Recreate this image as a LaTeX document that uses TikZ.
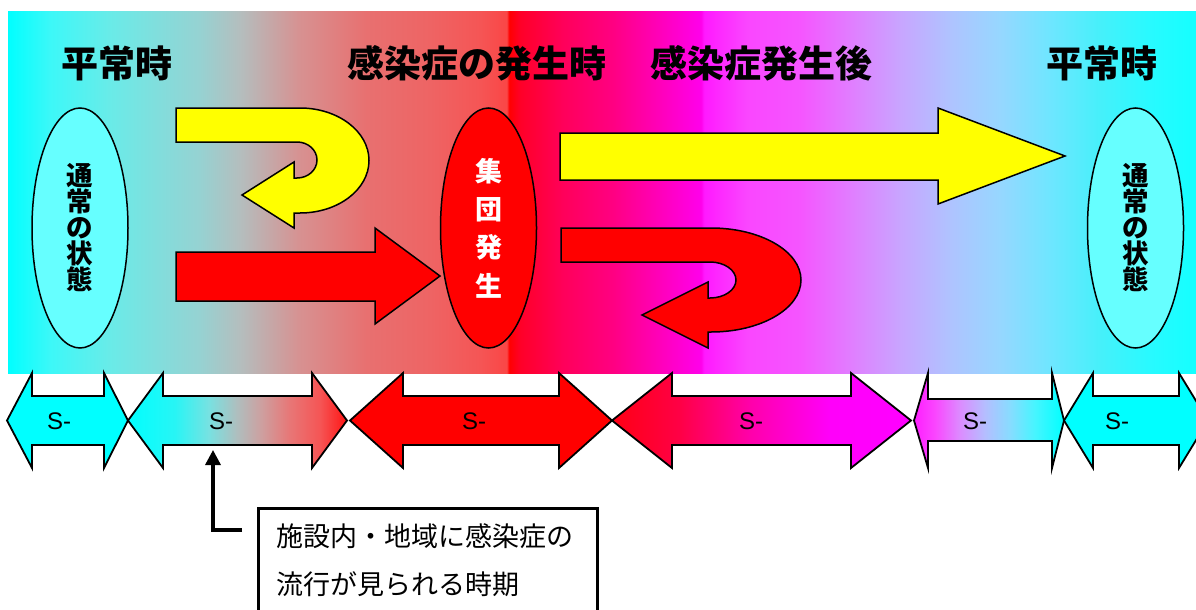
\documentclass[tikz,border=0pt]{standalone}
\usepackage{fontspec}
\newfontfamily\jp{Noto Sans CJK JP}
\newfontfamily\lsans{Liberation Sans}
\usetikzlibrary{shapes.geometric,arrows.meta}
% background colours
\definecolor{bg0}{RGB}{0,255,255}
\definecolor{bg1}{RGB}{60,248,248}
\definecolor{bg2}{RGB}{105,235,232}
\definecolor{bg3}{RGB}{150,210,210}
\definecolor{bg4}{RGB}{180,190,190}
\definecolor{bg5}{RGB}{215,145,145}
\definecolor{bg6}{RGB}{232,112,112}
\definecolor{bg7}{RGB}{238,100,100}
\definecolor{bg8}{RGB}{245,85,85}
\definecolor{bg9}{RGB}{250,70,70}
\definecolor{bg10}{RGB}{255,0,0}
\definecolor{bg11}{RGB}{255,0,40}
\definecolor{bg12}{RGB}{255,0,90}
\definecolor{bg13}{RGB}{255,0,130}
\definecolor{bg14}{RGB}{255,0,190}
\definecolor{bg15}{RGB}{255,0,235}
\definecolor{bg16}{RGB}{255,25,255}
\definecolor{bg17}{RGB}{250,70,255}
\definecolor{bg18}{RGB}{245,85,255}
\definecolor{bg19}{RGB}{225,125,255}
\definecolor{bg20}{RGB}{200,165,255}
\definecolor{bg21}{RGB}{175,195,255}
\definecolor{bg22}{RGB}{150,215,255}
\definecolor{bg23}{RGB}{110,230,255}
\definecolor{bg24}{RGB}{70,240,250}
\definecolor{bg25}{RGB}{40,250,255}
\definecolor{bg26}{RGB}{20,255,255}
\pgfdeclarehorizontalshading{bgshade}{100bp}{color(0bp)=(bg0); color(25bp)=(bg0);
 color(26.77bp)=(bg1); color(29.29bp)=(bg2); color(33.08bp)=(bg3); color(34.76bp)=(bg4);
 color(37.29bp)=(bg5); color(40.11bp)=(bg6); color(42.76bp)=(bg7); color(44.87bp)=(bg8);
 color(46.00bp)=(bg9); color(46.08bp)=(bg10); color(46.55bp)=(bg11); color(48.36bp)=(bg12);
 color(50.46bp)=(bg13); color(52.57bp)=(bg14); color(54.17bp)=(bg15); color(54.29bp)=(bg16);
 color(56.10bp)=(bg17); color(58.33bp)=(bg18); color(60.44bp)=(bg19); color(62.54bp)=(bg20);
 color(64.65bp)=(bg21); color(66.75bp)=(bg22); color(68.86bp)=(bg23); color(70.96bp)=(bg24);
 color(73.06bp)=(bg25); color(75bp)=(bg26); color(100bp)=(bg26)}
% arrow 2 colours
\definecolor{a0}{RGB}{0,255,255}
\definecolor{a1}{RGB}{40,245,245}
\definecolor{a2}{RGB}{120,225,225}
\definecolor{a3}{RGB}{175,190,190}
\definecolor{a4}{RGB}{205,160,160}
\definecolor{a5}{RGB}{232,118,118}
\definecolor{a6}{RGB}{245,85,85}
\definecolor{a7}{RGB}{255,20,20}
\pgfdeclarehorizontalshading{ashade}{100bp}{color(0bp)=(a0); color(25bp)=(a0);
 color(35.73bp)=(a1); color(43.49bp)=(a2); color(49.89bp)=(a3); color(55.37bp)=(a4);
 color(61.99bp)=(a5); color(68.83bp)=(a6); color(75bp)=(a7); color(100bp)=(a7)}
% arrow 4 colours
\definecolor{m0}{RGB}{255,0,20}
\definecolor{m1}{RGB}{255,0,70}
\definecolor{m2}{RGB}{255,0,170}
\definecolor{m3}{RGB}{255,0,250}
\definecolor{m4}{RGB}{255,0,255}
\pgfdeclarehorizontalshading{mshade}{100bp}{color(0bp)=(m0); color(25bp)=(m0);
 color(36.37bp)=(m1); color(48.08bp)=(m2); color(61.45bp)=(m3); color(75bp)=(m4); color(100bp)=(m4)}
% arrow 5 colours
\definecolor{p0}{RGB}{255,30,255}
\definecolor{p1}{RGB}{250,70,255}
\definecolor{p2}{RGB}{220,140,255}
\definecolor{p3}{RGB}{180,190,255}
\definecolor{p4}{RGB}{135,220,255}
\definecolor{p5}{RGB}{70,245,255}
\definecolor{p6}{RGB}{0,255,255}
\pgfdeclarehorizontalshading{pshade}{100bp}{color(0bp)=(p0); color(25bp)=(p0);
 color(32bp)=(p1); color(40.33bp)=(p2); color(48.67bp)=(p3); color(57bp)=(p4);
 color(65.33bp)=(p5); color(75bp)=(p6); color(100bp)=(p6)}
\definecolor{lightcyan}{RGB}{102,255,255}
\definecolor{pureyellow}{RGB}{255,255,0}
\definecolor{purered}{RGB}{255,0,0}
\definecolor{purecyan}{RGB}{0,255,255}

\begin{document}
\begin{tikzpicture}[x=1pt,y=1pt,
  title/.style={font=\jp\bfseries\fontsize{37}{40}\selectfont, inner sep=0},
  ell/.style={ellipse, draw, line width=1.5, minimum width=96, minimum height=240, inner sep=0, align=center},
  blockarrow/.style={draw, line width=1.5, line join=miter},
  dbl/.style={draw, line width=1.8, line join=miter},
  slabel/.style={font=\lsans\fontsize{24}{26}\selectfont, inner sep=0},
  notetxt/.style={font=\jp\fontsize{27}{30}\selectfont, inner sep=0, anchor=west}]
\useasboundingbox (0,0) rectangle (1196,-610);
\clip (0,0) rectangle (1196,-610);

% background band
\shade[shading=bgshade] (8,-12) rectangle (1196,-373);

% titles
\node[title] (t1) at (117,-63.5) {平常時};
\node[title] (t2) at (476.5,-63.5) {感染症の発生時};
\node[title] (t3) at (761,-63.5) {感染症発生後};
\node[title] (t4) at (1101.5,-63.5) {平常時};

% ellipses
\node[ell, fill=lightcyan, font=\jp\bfseries\fontsize{26.5}{26}\selectfont] (e1) at (80,-228) {通\\常\\の\\状\\態};
\node[ell, fill=purered, text=white, font=\jp\bfseries\fontsize{27}{38.3}\selectfont] (e2) at (488.5,-228) {集\\団\\発\\生};
\node[ell, fill=lightcyan, font=\jp\bfseries\fontsize{26.5}{26}\selectfont] (e3) at (1135.5,-228) {通\\常\\の\\状\\態};

% yellow U-turn arrow (left)
\path[blockarrow, fill=pureyellow] (176,-108) -- (300,-108)
  arc[start angle=90, end angle=-90, x radius=69, y radius=52.5]
  -- (294,-213) -- (294,-228) -- (242,-195) -- (294,-162) -- (294,-178) -- (297,-178)
  arc[start angle=-90, end angle=90, x radius=20, y radius=18]
  -- (176,-142) -- cycle;

% red straight arrow (left)
\path[blockarrow, fill=purered] (176,-252) -- (375,-252) -- (375,-228) -- (440,-276)
  -- (375,-324) -- (375,-301) -- (176,-301) -- cycle;

% yellow long arrow
\path[blockarrow, fill=pureyellow] (560,-133) -- (938,-133) -- (938,-108) -- (1065,-156)
  -- (938,-204) -- (938,-180) -- (560,-180) -- cycle;

% red U-turn arrow (right)
\path[blockarrow, fill=purered] (561,-228) -- (711,-228)
  arc[start angle=90, end angle=-90, x radius=90, y radius=52]
  -- (708,-332) -- (708,-348) -- (642,-315) -- (708,-282) -- (708,-298) -- (710,-298)
  arc[start angle=-90, end angle=90, x radius=26, y radius=18]
  -- (561,-262) -- cycle;

% bottom double arrows
\path[dbl, fill=purecyan] (7,-420.5) -- (32,-373) -- (32,-396) -- (104,-396) -- (104,-373)
  -- (128,-420.5) -- (104,-468) -- (104,-445) -- (32,-445) -- (32,-468) -- cycle;
\path[dbl, shading=ashade] (128,-420.5) -- (163,-373) -- (163,-396) -- (312,-396) -- (312,-373)
  -- (347,-420.5) -- (312,-468) -- (312,-445) -- (163,-445) -- (163,-468) -- cycle;
\path[dbl, fill=purered] (350,-420.5) -- (403,-373) -- (403,-396) -- (559,-396) -- (559,-373)
  -- (612,-420.5) -- (559,-468) -- (559,-445) -- (403,-445) -- (403,-468) -- cycle;
\path[dbl, shading=mshade] (612,-420.5) -- (672,-373) -- (672,-396) -- (851,-396) -- (851,-373)
  -- (911,-420.5) -- (851,-468) -- (851,-445) -- (672,-445) -- (672,-468) -- cycle;
\path[dbl, shading=pshade] (914,-420.5) -- (928,-373) -- (928,-399) -- (1052,-399) -- (1052,-373)
  -- (1064,-420.5) -- (1052,-468) -- (1052,-441) -- (928,-441) -- (928,-468) -- cycle;
\path[dbl, fill=purecyan] (1064,-420.5) -- (1093,-373) -- (1093,-396) -- (1179,-396) -- (1179,-373)
  -- (1208,-420.5) -- (1179,-468) -- (1179,-445) -- (1093,-445) -- (1093,-468) -- cycle;

\node[slabel] (s1) at (59,-421) {S-};
\node[slabel] (s2) at (221,-421) {S-};
\node[slabel] (s3) at (474,-421) {S-};
\node[slabel] (s4) at (751,-421) {S-};
\node[slabel] (s5) at (975,-421) {S-};
\node[slabel] (s6) at (1117,-421) {S-};

% callout
\node[draw, line width=3, anchor=north west, minimum width=338.5, minimum height=160, inner sep=0] (note) at (257,-506.5) {};
\node[notetxt] (n1) at (276,-536) {施設内・地域に感染症の};
\node[notetxt] (n2) at (276,-584) {流行が見られる時期};
\coordinate (cs) at (242,-530);
\coordinate (ct) at (213,-450);
\draw[line width=3.3, -{Triangle[width=15pt,length=15pt]}] (cs) -| (ct);
\end{tikzpicture}
\end{document}
